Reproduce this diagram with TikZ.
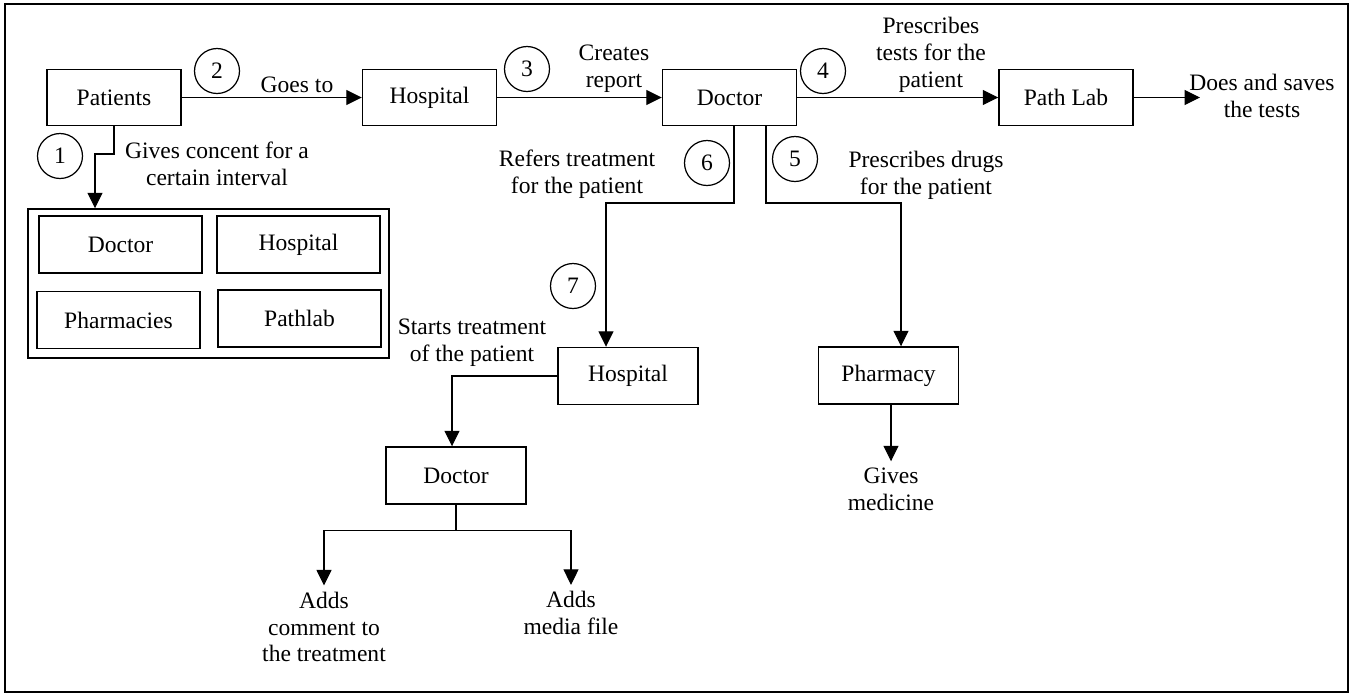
\documentclass[tikz,border=0pt]{standalone}
\usepackage{fontspec}
\setmainfont{Liberation Serif}
\usetikzlibrary{arrows.meta}

\begin{document}
\begin{tikzpicture}[
    x = 0.02cm,
    y = -0.02cm,
    line width = 0.6pt,
    >={Triangle[length=0.31cm, width=0.3cm]},
    font = \fontsize{13.4}{15.3}\selectfont,
    box/.style = {
      draw,
      rectangle,
      line width = 0.85pt,
      minimum width = 2.68cm,
      minimum height = 1.12cm
    },
    wbox/.style = {
      box,
      minimum width = 2.8cm,
      minimum height = 1.14cm
    },
    gbox/.style = {
      box,
      minimum width = 3.26cm,
      minimum height = 1.14cm
    },
    num/.style = {
      draw,
      circle,
      line width = 0.7pt,
      inner sep = 0pt,
      minimum size = 0.9cm
    },
    txt/.style = {
      align = center
    }
  ]
  \useasboundingbox (0,0) rectangle (1352,694);
  \draw[line width=0.8pt] (5,4) rectangle (1348,692);

  % top row
  \node[box] (patients) at (114,97.5) {Patients};
  \node[box] (hosp) at (429.5,97.5) {Hospital};
  \node[box] (doc) at (729.5,97.5) {Doctor};
  \node[box] (lab) at (1066,97.5) {Path Lab};
  \coordinate (labend) at (1200,97.5);

  % consent group
  \node[box, minimum width=7.22cm, minimum height=2.98cm] (grp) at (208.5,283.5) {};
  \node[gbox] (gdoc) at (120.5,244.5) {Doctor};
  \node[gbox] (ghosp) at (298.5,244.5) {Hospital};
  \node[gbox] (gpharm) at (118.5,320) {Pharmacies};
  \node[gbox] (glab) at (299.5,318.5) {Pathlab};

  % lower boxes
  \node[wbox] (hosp2) at (628,376) {Hospital};
  \node[wbox] (pharm) at (888.5,375.5) {Pharmacy};
  \node[wbox] (doc2) at (456,475.5) {Doctor};

  % step numbers
  \node[num] (c1) at (60,156) {1};
  \node[num] (c2) at (217,71) {2};
  \node[num] (c3) at (527,69) {3};
  \node[num] (c4) at (823,71) {4};
  \node[num] (c5) at (795,159) {5};
  \node[num] (c6) at (707,163) {6};
  \node[num] (c7) at (573,286) {7};

  % labels
  \node[txt] (goes) at (297,85) {Goes to};
  \node[txt] (creates) at (614,69) {Creates\\report};
  \node[txt] (tests) at (931,55) {Prescribes\\tests for the\\patient};
  \node[txt] (saves) at (1262,96) {Does and saves\\the tests};
  \node[txt] (consent) at (217,164) {Gives concent for a\\certain interval};
  \node[txt] (refers) at (577,174) {Refers treatment\\for the patient};
  \node[txt] (drugs) at (926,175) {Prescribes drugs\\for the patient};
  \node[txt] (starts) at (472,343) {Starts treatment\\of the patient};
  \node[txt] (medtxt) at (891,489) {Gives\\medicine};
  \node[txt] (addc) at (324,627) {Adds\\comment to\\the treatment};
  \node[txt] (addm) at (571,613) {Adds\\media file};

  % connectors
  \draw[->] (patients) -- (hosp);
  \draw[->] (hosp) -- (doc);
  \draw[->] (doc) -- (lab);
  \draw[->] (lab) -- (labend);

  \coordinate (k1) at (95,154);
  \draw[->] (patients.south) |- (k1) -- (k1 |- grp.north);

  \coordinate (j6) at (606,203);
  \coordinate (j5) at (901,203);
  \draw[->] ([xshift=0.09cm]doc.south) |- (j6) -- (j6 |- hosp2.north);
  \draw[->] ([xshift=0.73cm]doc.south) |- (j5) -- (j5 |- pharm.north);
  \draw[->] (pharm.south -| medtxt) -- (medtxt);

  \draw[->] (hosp2.west) -| ([xshift=-0.08cm]doc2.north);
  \draw[->] (doc2.south) -- ++(0,26) -| (addc.north);
  \draw[->] (doc2.south) -- ++(0,26) -| (addm.north);

\end{tikzpicture}
\end{document}
